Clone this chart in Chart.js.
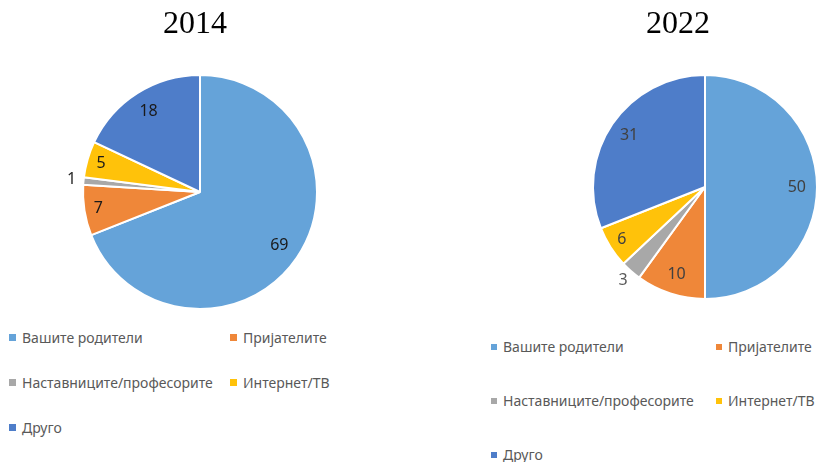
<!DOCTYPE html>
<html>
<head>
<meta charset="utf-8">
<script src="https://cdn.jsdelivr.net/npm/chart.js@4.4.1/dist/chart.umd.min.js"></script>
<style>
    body { margin: 0; background: #fff; }
    #page { position: relative; width: 818px; height: 462px; overflow: hidden; }
    .box { position: absolute; }
    .year { position: absolute; top: 4px; font-family: "Liberation Serif", serif; font-size: 32px; color: #000; transform: translateX(-50%); }
    .legend-item { position: absolute; font-family: "Noto Sans", sans-serif; font-size: 14px; color: #595959; line-height: 18px; white-space: nowrap; transform: translateY(-50%); }
    .legend-item i { display: inline-block; width: 7px; height: 7px; margin-right: 6px; vertical-align: 2px; }
    .right .legend-item i { width: 6px; height: 6px; }
</style>
</head>
<body>
<div id="page">
    <div class="box" style="left:0;top:0;width:409px;height:320px"><canvas id="pie2014"></canvas></div>
    <div class="box" style="left:430px;top:0;width:388px;height:320px"><canvas id="pie2022"></canvas></div>
</div>
<script>
// Данные
const categories = ['Вашите родители', 'Пријателите', 'Наставниците/професорите', 'Интернет/ТВ', 'Друго'];
const years = ['2014', '2022'];
const values2014 = [69, 7, 1, 5, 18];
const values2022 = [50, 10, 3, 6, 31];
const colors = ['#65A3D9', '#EF8739', '#A8A8A8', '#FFC20A', '#4E7DC9'];

// Подписи значений на секторах
const sliceLabels = {
    id: 'sliceLabels',
    afterDatasetsDraw(chart, args, opts) {
        const ctx = chart.ctx;
        const meta = chart.getDatasetMeta(0);
        const values = chart.data.datasets[0].data;
        ctx.save();
        ctx.font = '16px "Noto Sans", sans-serif';
        ctx.textAlign = 'center';
        ctx.textBaseline = 'middle';
        meta.data.forEach((arc, i) => {
            const p = arc.getProps(['x', 'y', 'startAngle', 'endAngle', 'outerRadius'], true);
            const mid = (p.startAngle + p.endAngle) / 2;
            const v = values[i];
            let d;
            if (v < 4) {
                d = p.outerRadius + 12;
                ctx.fillStyle = opts.outsideColor;
            } else {
                d = p.outerRadius * (v <= 7 ? 0.88 : 0.82);
                ctx.fillStyle = opts.color;
            }
            ctx.fillText(String(v), p.x + Math.cos(mid) * d, p.y + Math.sin(mid) * d);
        });
        ctx.restore();
    }
};

function makePie(canvasId, values, padding, labelColor, outsideColor) {
    return new Chart(document.getElementById(canvasId), {
        type: 'pie',
        data: {
            labels: categories,
            datasets: [{
                data: values,
                backgroundColor: colors,
                borderColor: '#ffffff',
                borderWidth: 2
            }]
        },
        options: {
            responsive: true,
            maintainAspectRatio: false,
            animation: false,
            layout: { padding: padding },
            plugins: {
                legend: { display: false },
                tooltip: { enabled: false },
                sliceLabels: { color: labelColor, outsideColor: outsideColor }
            }
        },
        plugins: [sliceLabels]
    });
}

makePie('pie2014', values2014, { left: 82, top: 74, right: 91, bottom: 10 }, '#1a1a1a', '#262626');
makePie('pie2022', values2022, { left: 162, top: 74, right: 0, bottom: 20 }, '#404040', '#595959');

// Заголовки и легенды
const page = document.getElementById('page');

function addTitle(text, x) {
    const el = document.createElement('div');
    el.className = 'year';
    el.style.left = x + 'px';
    el.textContent = text;
    page.appendChild(el);
}

function addLegend(cls, cols, rows) {
    const wrap = document.createElement('div');
    wrap.className = cls;
    categories.forEach((name, i) => {
        const item = document.createElement('div');
        item.className = 'legend-item';
        item.style.left = cols[i % 2] + 'px';
        item.style.top = rows[Math.floor(i / 2)] + 'px';
        item.innerHTML = `<i style="background:${colors[i]}"></i>${name}`;
        wrap.appendChild(item);
    });
    page.appendChild(wrap);
}

addTitle(years[0], 195);
addTitle(years[1], 678);
addLegend('left', [9, 230], [338, 383, 428]);
addLegend('right', [491, 716], [347, 401, 455]);
</script>
</body>
</html>
